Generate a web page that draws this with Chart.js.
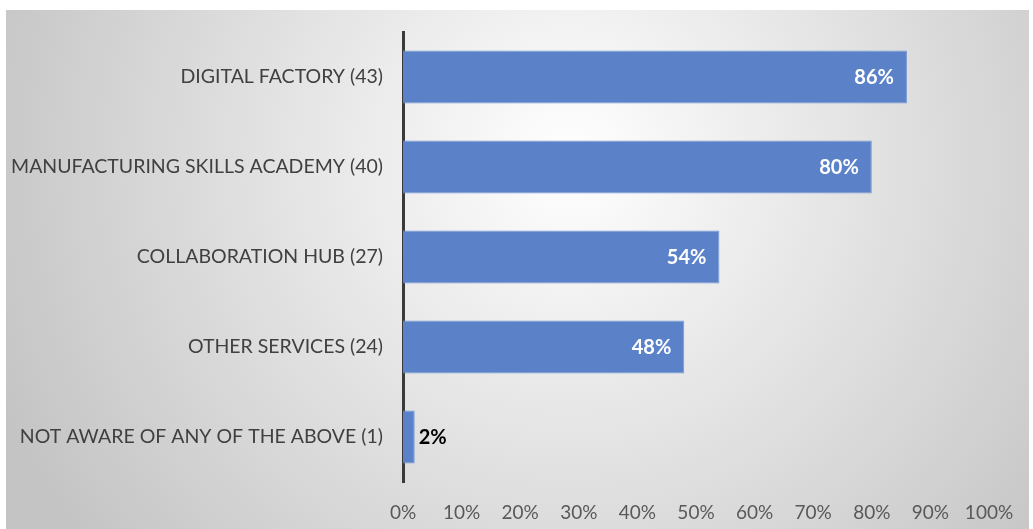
<!DOCTYPE html>
<html>
<head>
<meta charset="utf-8">
<script src="https://cdn.jsdelivr.net/npm/chart.js@4.4.1/dist/chart.umd.min.js"></script>
<style>
    html, body { margin: 0; padding: 0; background: #ffffff; }
    #wrap { width: 1033px; height: 529px; }
</style>
</head>
<body>
<div id="wrap"><canvas id="awarenessChart" width="1033" height="529"></canvas></div>
<script>
// Services respondents were aware of (counts out of 50 replies)
const services = ['DIGITAL FACTORY', 'MANUFACTURING SKILLS ACADEMY', 'COLLABORATION HUB', 'OTHER SERVICES', 'NOT AWARE OF ANY OF THE ABOVE'];
const counts = [43, 40, 27, 24, 1];
const shares = [86, 80, 54, 48, 2];
const xTicks = [0, 10, 20, 30, 40, 50, 60, 70, 80, 90, 100];

const labels = services.map((s, i) => s + ' (' + counts[i] + ')');
const FONT = 'Lato, "Open Sans", sans-serif';

// soft grey radial backdrop behind the plot
const backdrop = {
    id: 'backdrop',
    beforeDraw(chart) {
        const ctx = chart.ctx;
        ctx.save();
        ctx.fillStyle = '#ffffff';
        ctx.fillRect(0, 0, chart.width, chart.height);
        const g = ctx.createRadialGradient(570, 160, 0, 570, 160, 620);
        g.addColorStop(0, '#ffffff');
        g.addColorStop(0.15, '#f6f6f6');
        g.addColorStop(1, '#c4c4c4');
        ctx.fillStyle = g;
        ctx.fillRect(6, 10, chart.width - 10, chart.height - 10);
        ctx.restore();
    }
};

// percentage labels: inside the bar end, or just past it for short bars
const valueLabels = {
    id: 'valueLabels',
    afterDatasetsDraw(chart) {
        const ctx = chart.ctx;
        const meta = chart.getDatasetMeta(0);
        ctx.save();
        ctx.font = 'bold 20px ' + FONT;
        ctx.textBaseline = 'middle';
        meta.data.forEach((bar, i) => {
            const v = chart.data.datasets[0].data[i];
            const text = v + '%';
            if (v >= 10) {
                ctx.fillStyle = '#ffffff';
                ctx.textAlign = 'right';
                ctx.fillText(text, bar.x - 13, bar.y + 1);
            } else {
                ctx.fillStyle = '#000000';
                ctx.textAlign = 'left';
                ctx.fillText(text, bar.x + 4, bar.y + 1);
            }
        });
        ctx.restore();
    }
};

new Chart(document.getElementById('awarenessChart'), {
    type: 'bar',
    data: {
        labels: labels,
        datasets: [{
            data: shares,
            backgroundColor: '#5b82c9',
            borderColor: '#7697d3',
            borderWidth: 1,
            borderSkipped: 'start',
            categoryPercentage: 1,
            barPercentage: 0.59
        }]
    },
    options: {
        indexAxis: 'y',
        responsive: false,
        animation: false,
        layout: { padding: { top: 32, right: 44, left: 0, bottom: 0 } },
        plugins: {
            legend: { display: false },
            tooltip: { enabled: false }
        },
        scales: {
            x: {
                min: 0,
                max: 100,
                afterBuildTicks(scale) {
                    scale.ticks = xTicks.map(v => ({ value: v }));
                },
                afterFit(scale) { scale.height = 47; },
                grid: { display: false, drawTicks: false },
                border: { display: false },
                ticks: {
                    color: '#595959',
                    padding: 19,
                    font: { family: FONT, size: 19 },
                    callback: v => v + '%'
                }
            },
            y: {
                afterFit(scale) { scale.width = 403; },
                grid: { display: false, drawTicks: false },
                border: { display: true, color: '#3a3a3a', width: 3 },
                ticks: {
                    color: '#404040',
                    padding: 20,
                    font: { family: FONT, size: 19.5 }
                }
            }
        }
    },
    plugins: [backdrop, valueLabels]
});
</script>
</body>
</html>
